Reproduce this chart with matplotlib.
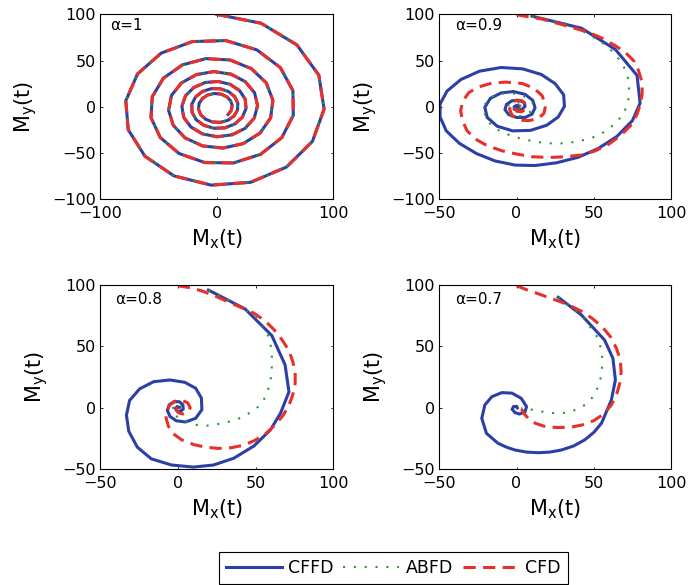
import matplotlib
matplotlib.use("Agg")
import matplotlib.pyplot as plt

# ---- trajectories (M_x, M_y) for each fractional order ----
# alpha = 1: all three schemes coincide
mx_a1 = [0.0, 38.1, 68.8, 87.6, 92.1, 82.1, 59.9, 29.2, -4.7, -36.6,
         -61.5, -75.8, -77.9, -67.8, -47.6, -20.9, 8.0, 34.5, 54.6, 65.4,
         65.7, 55.8, 37.6, 14.4, -10.2, -32.2, -48.3, -56.3, -55.2, -45.7,
         -29.4, -9.3, 11.5, 29.7, 42.5, 48.2, 46.3, 37.2, 22.8, 5.4,
         -12.1, -27.1, -37.2, -41.2, -38.7, -30.2, -17.4, -2.5, 12.3, 24.5,
         32.5, 35.1, 32.2, 24.4, 13.1, 0.3, -12.1, -22.1, -28.3, -29.8,
         -26.7, -19.5, -9.7, 1.3, 11.6, 19.7, 24.5, 25.2, 22.0, 15.6,
         7.0, -2.4, -11.0, -17.6, -21.1, -21.3, -18.1, -12.3, -4.8, 3.1,
         10.3, 15.5, 18.2, 17.9, 14.9, 9.7, 3.2, -3.6, -9.5, -13.7,
         -15.6, -15.0, -12.1, -7.5, -1.9, 3.8, 8.7, 12.0, 13.3, 12.5, 9.8]
my_a1 = [100.0, 90.3, 66.9, 34.2, -2.6, -37.4, -65.1, -81.6, -84.7, -74.7,
         -53.4, -24.8, 6.5, 35.6, 58.0, 70.5, 71.6, 61.5, 42.4, 17.4,
         -9.2, -33.4, -51.4, -60.7, -60.3, -50.5, -33.3, -11.7, 10.9, 30.9,
         45.3, 52.1, 50.6, 41.3, 25.9, 7.2, -11.9, -28.4, -39.8, -44.6,
         -42.3, -33.6, -20.0, -3.8, 12.3, 25.8, 34.8, 38.1, 35.3, 27.2,
         15.2, 1.3, -12.2, -23.3, -30.3, -32.4, -29.3, -21.8, -11.3, 0.6,
         11.9, 20.9, 26.3, 27.4, 24.3, 17.5, 8.2, -1.9, -11.3, -18.6,
         -22.8, -23.2, -20.0, -13.9, -5.8, 2.8, 10.6, 16.5, 19.6, 19.5,
         16.4, 10.9, 3.9, -3.4, -9.9, -14.6, -16.8, -16.4, -13.4, -8.5,
         -2.5, 3.7, 9.1, 12.8, 14.4, 13.7, 10.9, 6.6, 1.4, -3.9, -8.3]

# alpha = 0.9
cffd09_x = [10, 42, 64, 78, 80, 75, 65, 53, 40, 26, 12, -1, -14, -26, -37, -45.5,
            -49.5, -49.5, -45, -36, -24, -10, 4, 16, 25, 30.5, 31, 27, 19.5, 9,
            -2.5, -12.5, -19, -20.5, -17, -10, -2, 5.5, 10.5, 12, 10, 5.5, 0, -5,
            -7.5, -6.5, -3, 1.5, 5, 5.5, 3.5, 0.5, -1.5, -1.5, 0, 1.5, 1.5, 0.5]
cffd09_y = [98, 85, 62, 34, 4, -15, -32, -45, -54.5, -60.5, -63.5, -63, -58.5, -50.5,
            -39.5, -26, -11, 3, 17, 29.5, 38.5, 42.5, 41, 35, 25, 13, 0.5, -11, -20,
            -25.5, -26, -21, -11.5, -0.5, 9, 15, 16.5, 13.5, 7, -1, -8, -11.5, -11.5,
            -8.5, -3, 2.5, 6.5, 7, 4.5, 0.5, -3, -4, -2.5, 0, 1.5, 1, -0.5, -0.5]
abfd09_x = [10, 30, 45, 55, 62, 67, 70.5, 72.5, 73, 72, 69, 64, 57, 49, 40, 31, 22,
            13, 4, -4, -11, -16.5, -20, -21, -20, -16.5, -11, -5, 2, 8, 11, 10.5,
            6.5, 1, -4, -6.5, -5.5, -2, 2, 4, 3.5, 1, -1, -1, 0.5, 1]
abfd09_y = [98, 91, 80, 70, 60, 50, 40, 29, 16, 3, -8, -18, -27, -33.5, -37.5, -39.5,
            -39.5, -38, -35, -31, -26, -19.5, -12, -4, 4.5, 10.5, 14, 15, 13.5, 9, 3,
            -3.5, -8.5, -10.5, -8.5, -4, 1.5, 5, 4.5, 1.5, -1.5, -2.5, -1.5, 0.5, 1, 0]
cfd09_x = [0, 16.6, 36, 46.8, 55.4, 64, 70.5, 75.9, 79, 81.3, 81.3, 80.2, 78, 73.7,
           67.2, 59.7, 51, 42.5, 31.7, 21, 10, 0.4, -9.3, -19, -26.5, -32, -35, -36.2,
           -34.7, -30.8, -24.4, -15.7, -7, 3.7, 11.2, 16.6, 18.8, 17.7, 14, 8, 2.6,
           -2.8, -4.5, -3.2, 0, 3.7, 6.2, 5.8, 3.2, 0.4, -1, -0.2, 1.5, 2.6]
cfd09_y = [99.5, 94.8, 85.8, 80.4, 74.2, 66, 58.7, 49.7, 39, 26.3, 13.7, 2.9, -8,
           -20.5, -31.4, -40.4, -47.6, -52, -54, -54.8, -54, -51.2, -47.6, -42, -35,
           -26, -15, -4.3, 6.5, 15.5, 21.6, 25.6, 26.7, 25.2, 20.2, 12, 1, -7.2, -12.6,
           -15, -14.4, -9.7, -2.5, 3.6, 7.2, 6.5, 2.2, -2.5, -5.4, -5, -1.4, 2.2, 2.9, 0]

# alpha = 0.8
cffd08_x = [19.7, 43.3, 60.5, 69, 71.5, 66, 59.5, 49, 36, 23, 10, -4, -17, -26, -31.5,
            -33, -31, -24.5, -15.5, -5, 4.5, 11.5, 15.2, 15.5, 11.5, 5, -1, -5, -6.7,
            -5.5, -2.5, 1, 3.3, 3.5, 1.5, -0.5, -1.5, -0.3, 1]
cffd08_y = [95.9, 80.5, 58.8, 35, 13, -4.5, -18, -31, -41, -46.5, -48.2, -46.5, -41.5,
            -32, -19, -6, 6, 15.5, 21.3, 22.7, 20.8, 16, 8, -1.5, -8.5, -11.5, -10.5,
            -7, -2, 2.5, 5, 5, 2.5, -1, -3, -2.5, -0.5, 1, 0.3]
abfd08_x = [19.7, 43.3, 51, 55.2, 58.4, 59.9, 60.5, 60.5, 60, 59, 57.3, 55.2, 51.9,
            47.6, 42.3, 36.9, 31.5, 25.1, 18.7, 12.2, 6.2, 2, -2, -3.5, -2.5, 0, 2, 2,
            0.5, 0]
abfd08_y = [95.9, 80.5, 72.9, 66.1, 57.9, 49.8, 41.6, 33.5, 25.4, 18.6, 11.8, 6.4, 1,
            -3, -7.1, -9.9, -11.7, -13.4, -14.5, -13.9, -11.7, -9, -6, -2, 2, 3.5, 2,
            -0.5, -1, 0]
cfd08_x = [0, 8, 16, 24, 33, 41, 49, 56, 62, 67, 71.5, 74, 75.5, 75.5, 74, 71.5, 67.5,
           62.5, 56.5, 49.5, 42, 34, 26, 18, 10.5, 2.5, -3, -6, -7.5, -7, -5, -1.5, 3,
           6.5, 8, 6.5, 3.5, 0.5, -1, 0, 1.5, 1]
cfd08_y = [99.4, 97.8, 95, 91, 86, 81.5, 77, 71, 63.5, 55.5, 46.5, 37.5, 28.5, 20, 11,
           2, -6.5, -14, -21, -26.5, -30.5, -32.5, -33, -32, -30, -26, -21, -15, -8.5,
           -2.5, 2.5, 5.5, 6, 4, 0, -3.5, -5, -4, -1.5, 1, 0.5, -0.5]

# alpha = 0.7
cffd07_x = [27, 42, 57, 62.4, 64, 61.4, 55, 50, 44.2, 37, 29, 21.5, 14, 6.5, -1, -6.5,
            -12, -19.5, -22.5, -20.5, -16, -9.5, -3, 3, 6.5, 5.5, 2, -1, -2.8, -2, 0,
            0.5]
cffd07_y = [90, 75.6, 55.2, 40.4, 22.7, 6.4, -12.5, -20, -26, -31, -34.3, -36, -36.5,
            -36, -34.3, -32, -28.8, -20.7, -8.5, 2.4, 9.1, 12.4, 12, 7.8, 1, -3.1, -5,
            -3.9, -1.2, 1, 1.2, 0]
abfd07_x = [27, 42, 46.8, 50, 52.8, 54.3, 55.4, 55.4, 54.7, 53.2, 51, 47.8, 43.5, 38.1,
            32.8, 26.3, 19.8, 14.4, 10.1, 5.8, 3]
abfd07_y = [90, 75.6, 67.3, 61.9, 56.5, 49.7, 42.9, 33.5, 25.4, 18.6, 11.8, 6.4, 1.8,
            -1.7, -3.9, -4.5, -3.7, -2.6, -1.5, -0.4, 0]
cfd07_x = [0, 6.9, 14.4, 20.9, 28.4, 36, 42.5, 48.9, 55.4, 60.8, 64.7, 67.2, 67.7,
           66.8, 64.7, 61.4, 56.5, 50, 42.5, 34.9, 26.3, 18.8, 12.3, 7.5, 4.7, 3.2]
cfd07_y = [99.4, 96, 92.7, 89.7, 86.4, 82.4, 78.3, 72.9, 66.1, 57.9, 48.4, 38.9, 29.4,
           19.9, 10.4, 2.4, -5, -10.4, -13.9, -15.8, -16, -15.3, -12.6, -8.5, -4.4, -0.9]

series_names = ["CFFD", "ABFD", "CFD"]
alpha_labels = ["\u03b1=1", "\u03b1=0.9", "\u03b1=0.8", "\u03b1=0.7"]

BLUE = "#2b3fa6"
GREEN = "#1f9c2b"
RED = "#e8302a"

W, H = 689, 585
fig = plt.figure(figsize=(W / 100, H / 100), dpi=100)


def axes_px(left, top, right, bottom):
    return fig.add_axes([left / W, 1 - bottom / H, (right - left) / W, (bottom - top) / H])


panels = [
    dict(box=(100, 14.3, 333.3, 199.3), xlim=(-100, 100), ylim=(-100, 100),
         xt=[-100, 0, 100], yt=[-100, -50, 0, 50, 100], tx=-91,
         data=[(mx_a1, my_a1), (mx_a1, my_a1), (mx_a1, my_a1)]),
    dict(box=(439.3, 14.3, 671, 199.3), xlim=(-50, 100), ylim=(-100, 100),
         xt=[-50, 0, 50, 100], yt=[-100, -50, 0, 50, 100], tx=-40,
         data=[(cffd09_x, cffd09_y), (abfd09_x, abfd09_y), (cfd09_x, cfd09_y)]),
    dict(box=(100, 285, 333.3, 469.3), xlim=(-50, 100), ylim=(-50, 100),
         xt=[-50, 0, 50, 100], yt=[-50, 0, 50, 100], tx=-40,
         data=[(cffd08_x, cffd08_y), (abfd08_x, abfd08_y), (cfd08_x, cfd08_y)]),
    dict(box=(439.3, 285, 671, 469.3), xlim=(-50, 100), ylim=(-50, 100),
         xt=[-50, 0, 50, 100], yt=[-50, 0, 50, 100], tx=-40,
         data=[(cffd07_x, cffd07_y), (abfd07_x, abfd07_y), (cfd07_x, cfd07_y)]),
]

handles = None
for p, lab in zip(panels, alpha_labels):
    ax = axes_px(*p["box"])
    (bx, by), (gx, gy), (rx, ry) = p["data"]
    h1, = ax.plot(bx, by, color=BLUE, lw=2.2, solid_joinstyle="miter")
    h2, = ax.plot(gx, gy, color=GREEN, lw=1.5, linestyle=(0, (1, 4.2)))
    h3, = ax.plot(rx, ry, color=RED, lw=2.2, linestyle=(0, (4, 2.4)))
    if handles is None:
        handles = [h1, h2, h3]
    ax.set_xlim(*p["xlim"])
    ax.set_ylim(*p["ylim"])
    ax.set_xticks(p["xt"])
    ax.set_yticks(p["yt"])
    ax.tick_params(direction="in", length=1.8, width=0.6, top=True, right=True,
                   labelsize=11.5, pad=3)
    ax.tick_params(axis="x", pad=4.5)
    for s in ax.spines.values():
        s.set_linewidth(0.8)
    ax.set_xlabel(r"$\mathregular{M_x(t)}$", fontsize=15, labelpad=5)
    ax.set_ylabel(r"$\mathregular{M_y(t)}$", fontsize=15, labelpad=9)
    ax.text(p["tx"], 88, lab, fontsize=11, ha="left", va="center")

leg = fig.legend(handles, series_names, ncol=3, loc="upper left",
                 bbox_to_anchor=(219 / W, 1 - 552 / H), borderaxespad=0,
                 frameon=True, fancybox=False, edgecolor="black", framealpha=1,
                 fontsize=12.5, handlelength=3.2, handletextpad=0.4,
                 columnspacing=0.55, borderpad=0.4)
leg.get_frame().set_linewidth(0.8)

fig.savefig("out.png", dpi=100)
